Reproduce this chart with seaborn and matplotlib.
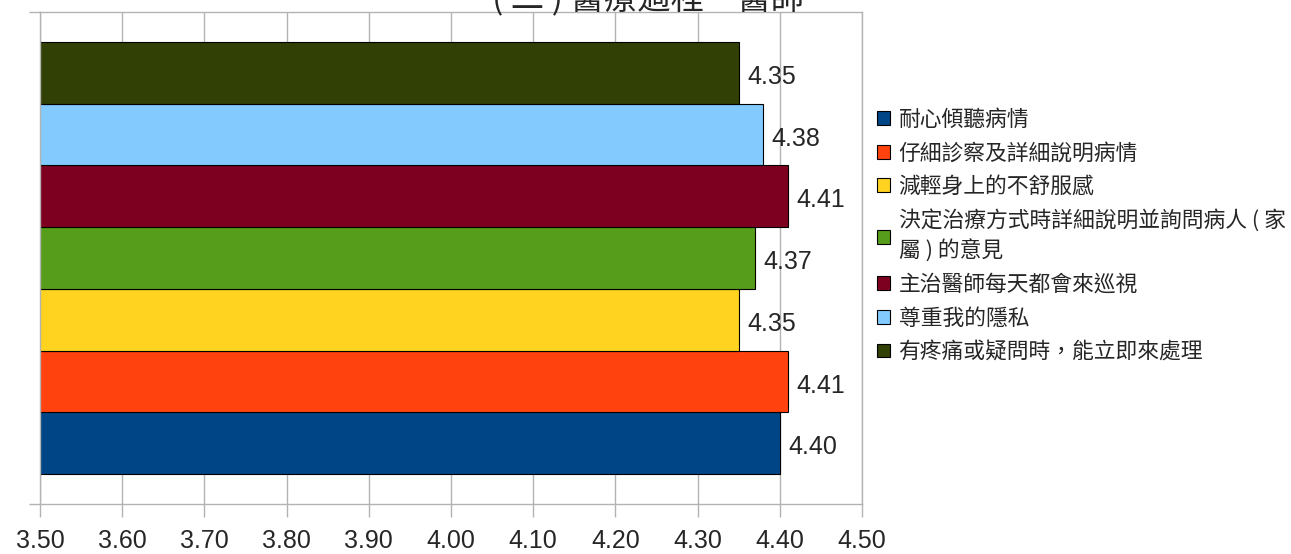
import seaborn as sns
import pandas as pd
import matplotlib.pyplot as plt

items = ["耐心傾聽病情",
         "仔細診察及詳細說明病情",
         "減輕身上的不舒服感",
         "決定治療方式時詳細說明並詢問病人 ( 家\n屬 ) 的意見",
         "主治醫師每天都會來巡視",
         "尊重我的隱私",
         "有疼痛或疑問時，能立即來處理"]
scores = [4.40, 4.41, 4.35, 4.37, 4.41, 4.38, 4.35]
colors = ["#004586", "#ff420e", "#ffd320", "#579d1c", "#7e0021", "#83caff", "#314004"]
xticks = [3.5, 3.6, 3.7, 3.8, 3.9, 4.0, 4.1, 4.2, 4.3, 4.4, 4.5]

sns.set_theme(style="white")
plt.rcParams['font.family'] = ['Liberation Sans', 'Noto Sans CJK TC', 'DejaVu Sans']

df = pd.DataFrame({"item": items, "score": scores, "grp": [""] * len(items)})

fig = plt.figure(figsize=(12.91, 5.54), dpi=100)
ax = fig.add_axes([40 / 1291, 50 / 554, 822 / 1291, 492 / 554])

sns.barplot(ax=ax, data=df, x="score", y="grp", hue="item", hue_order=items,
            palette=colors, saturation=1, orient="h", width=0.8, edgecolor="black",
            linewidth=0.8, legend=False)

for c in ax.containers:
    for t in ax.bar_label(c, fmt="%.2f", padding=6, fontsize=18):
        t.xyann = (6, -3)

ax.set_xlim(3.5, 4.5)
lim = 0.4 * 492 / 432
ax.set_ylim(-lim, lim)
ax.set_xticks(xticks)
ax.set_xticklabels([f"{v:.2f}" for v in xticks])
ax.set_yticks([-lim, lim])
ax.set_yticklabels(["", ""])
ax.set_xlabel("")
ax.set_ylabel("")
ax.xaxis.grid(True, color="#b3b3b3", linewidth=1)
ax.set_axisbelow(True)
for s in ax.spines.values():
    s.set_color("#b3b3b3")
    s.set_linewidth(1)
ax.tick_params(axis="x", length=9, width=1, color="#b3b3b3", labelsize=18, pad=9, bottom=True)
ax.tick_params(axis="y", length=8, width=1, color="#b3b3b3", left=True)

handles = [plt.Rectangle((0, 0), 1, 1, facecolor=col, edgecolor="black", linewidth=0.8)
           for col in colors]
leg = fig.legend(handles, items, loc="upper left", bbox_to_anchor=(868 / 1291, 1 - 100 / 554),
                 frameon=False, handlelength=0.6, handleheight=0.6,
                 handletextpad=0.4, labelspacing=0.53, borderaxespad=0,
                 prop={"family": ["Noto Sans CJK TC"], "size": 15.7})
for t in leg.get_texts():
    t.set_linespacing(1.4)

# title sits partly above the top edge, as in the source image
fig.text(648 / 1291, 1 + 1 / 554, "( 二 ) 醫療過程－醫師", ha="center", va="center",
         fontsize=24, family=["Noto Sans CJK TC"])

fig.savefig("out.png", dpi=100)
